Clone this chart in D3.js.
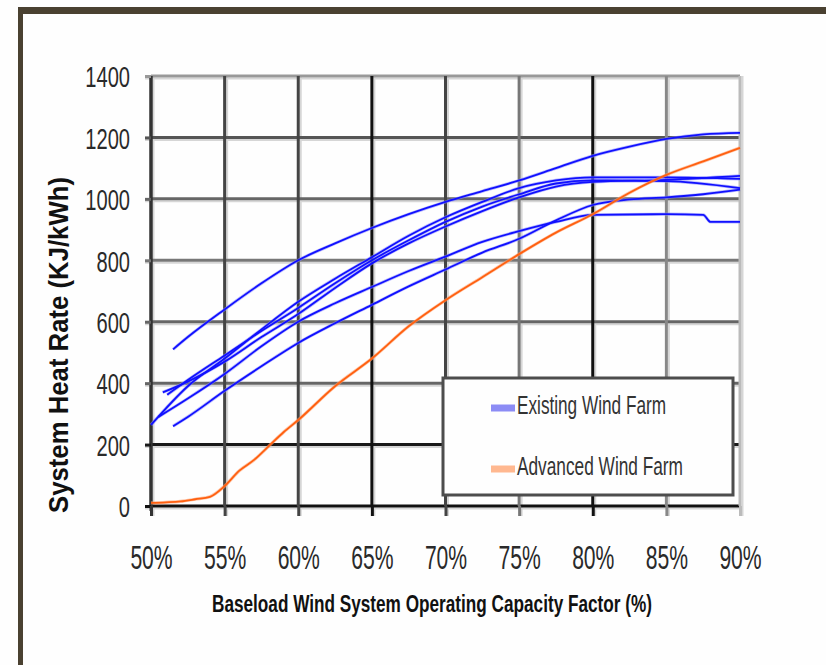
<!DOCTYPE html>
<html>
<head>
<meta charset="utf-8">
<script src="https://cdn.jsdelivr.net/npm/d3@7"></script>
<style>
  body { margin: 0; background: #fefefe; }
  svg { display: block; }
</style>
</head>
<body>
<script>
//////////////// Data ////////////////////
var xTicks = [50, 55, 60, 65, 70, 75, 80, 85, 90];
var yTicks = [0, 200, 400, 600, 800, 1000, 1200, 1400];
var seriesNames = ["Existing Wind Farm", "Advanced Wind Farm"];

// existing wind farm cases (capacity factor %, heat rate)
var existing1 = [[51.5,510],[52.5,550],[55,640],[57.5,725],[60,800],[62.5,855],[65,905],[67.5,950],[70,990],[72.5,1025],[75,1060],[77.5,1100],[80,1140],[82.5,1170],[85,1195],[87.5,1210],[90,1215]];
var existing2 = [[50,264],[52.5,390],[55,480],[57.5,575],[60,665],[62.5,740],[65,810],[67.5,880],[70,940],[72.5,990],[75,1035],[77.5,1060],[80,1070],[85,1070],[90,1065]];
var existing3 = [[51.1,362],[52.5,410],[55,490],[57.5,570],[60,645],[62.5,725],[65,800],[67.5,865],[70,925],[72.5,975],[75,1015],[77.5,1050],[80,1060],[85,1058],[90,1035]];
var existing4 = [[50.8,370],[52.5,405],[55,470],[57.5,550],[60,625],[62.5,710],[65,790],[67.5,855],[70,910],[72.5,960],[75,1005],[77.5,1040],[80,1055],[85,1062],[90,1075]];
var existing5 = [[50.5,290],[52.5,350],[55,430],[57.5,520],[60,600],[62.5,660],[65,713],[67.5,765],[70,812],[72.5,860],[75,895],[77.5,925],[80,948],[85,950],[87.5,948],[88,925],[90,925]];
var existing6 = [[51.5,260],[52.5,290],[55,375],[57.5,455],[60,531],[62.5,595],[65,655],[67.5,715],[70,770],[72.5,825],[75,870],[77.5,930],[80,980],[82.5,998],[85,1005],[87.5,1015],[90,1030]];
var advanced = [[50,10],[51,12],[52,15],[53,22],[54,30],[55,65],[56,115],[57,150],[58,195],[59,240],[60,280],[62.5,390],[65,480],[67.5,585],[70,670],[72.5,745],[75,820],[77.5,890],[80,950],[82.5,1020],[85,1078],[87.5,1122],[90,1166]];

//////////////// Layout ////////////////////
var W = 826, H = 665;
var x = d3.scaleLinear().domain([50, 90]).range([151, 740]);
var y = d3.scaleLinear().domain([0, 1400]).range([506, 76]);

// grid shades, as in the scanned original
var vShade = ["#333", "#444", "#444", "#111", "#444", "#777", "#111", "#888", "#bbb"];
var hShade = ["#111", "#1a1a1a", "#666", "#666", "#777", "#666", "#555", "#999"];

var svg = d3.select("body").append("svg")
  .attr("width", W).attr("height", H);

svg.append("rect").attr("width", W).attr("height", H).attr("fill", "#fefefe");

// frame
svg.append("rect").attr("x", 18).attr("y", 7).attr("width", W - 18).attr("height", 7).attr("fill", "#4a4131");
svg.append("rect").attr("x", 18).attr("y", 7).attr("width", 5).attr("height", H - 7).attr("fill", "#4a4131");

//////////////// Grid ////////////////////
var grid = svg.append("g");
// soft halo next to each line
grid.selectAll("line.hh").data(yTicks).enter().append("line")
  .attr("x1", 145).attr("x2", 740)
  .attr("y1", function(d){ return y(d) + 2.5; }).attr("y2", function(d){ return y(d) + 2.5; })
  .attr("stroke", "#d6d6d6").attr("stroke-width", 2);
grid.selectAll("line.vh").data(xTicks).enter().append("line")
  .attr("y1", 76).attr("y2", 516)
  .attr("x1", function(d){ return x(d) + 2.5; }).attr("x2", function(d){ return x(d) + 2.5; })
  .attr("stroke", "#d6d6d6").attr("stroke-width", 2);

grid.selectAll("line.h").data(yTicks).enter().append("line")
  .attr("x1", 151).attr("x2", 740)
  .attr("y1", function(d){ return y(d); }).attr("y2", function(d){ return y(d); })
  .attr("stroke", function(d, i){ return hShade[i]; }).attr("stroke-width", 3);
grid.selectAll("line.v").data(xTicks).enter().append("line")
  .attr("y1", 76).attr("y2", 506)
  .attr("x1", function(d){ return x(d); }).attr("x2", function(d){ return x(d); })
  .attr("stroke", function(d, i){ return vShade[i]; }).attr("stroke-width", 3);

//////////////// Axes ////////////////////
var yAxis = d3.axisLeft(y).tickValues(yTicks).tickSize(6).tickPadding(0)
  .tickFormat(d3.format("d"));
var xAxis = d3.axisBottom(x).tickValues(xTicks).tickSize(10).tickPadding(0)
  .tickFormat(function(d){ return d + "%"; });

var yA = svg.append("g").attr("transform", "translate(151,0)").call(yAxis);
yA.select(".domain").attr("stroke", "#333").attr("stroke-width", 3).attr("d", "M0,76V511");
yA.selectAll(".tick line").attr("stroke", function(d, i){ return hShade[i]; }).attr("stroke-width", 3);
yA.selectAll(".tick text")
  .attr("font-family", "Liberation Sans, Arial, sans-serif")
  .attr("font-size", 30).attr("fill", "#2a2a2a")
  .attr("x", -21 / 0.67).attr("dy", "0.36em")
  .attr("transform", "scale(0.67,1)");

var xA = svg.append("g").attr("transform", "translate(0,506)").call(xAxis);
xA.select(".domain").remove();
xA.selectAll(".tick line").attr("stroke", function(d, i){ return vShade[i]; }).attr("stroke-width", 3);
xA.selectAll(".tick text")
  .attr("font-family", "Liberation Sans, Arial, sans-serif")
  .attr("font-size", 33).attr("fill", "#2a2a2a")
  .attr("y", 63).attr("dy", 0)
  .attr("transform", "scale(0.64,1)");

// axis titles
svg.append("text")
  .attr("transform", "translate(68,345) rotate(-90)")
  .attr("text-anchor", "middle")
  .attr("font-family", "Liberation Sans, Arial, sans-serif")
  .attr("font-weight", "bold").attr("font-size", 27).attr("fill", "#111")
  .attr("textLength", 336).attr("lengthAdjust", "spacingAndGlyphs")
  .text("System Heat Rate (KJ/kWh)");

svg.append("text")
  .attr("x", 432).attr("y", 612)
  .attr("text-anchor", "middle")
  .attr("font-family", "Liberation Sans, Arial, sans-serif")
  .attr("font-weight", "bold").attr("font-size", 23).attr("fill", "#111")
  .attr("textLength", 440).attr("lengthAdjust", "spacingAndGlyphs")
  .text("Baseload Wind System Operating Capacity Factor (%)");

//////////////// Lines ////////////////////
var line = d3.line()
  .curve(d3.curveMonotoneX)
  .x(function(d){ return x(d[0]); })
  .y(function(d){ return y(d[1]); });

var blues = [existing1, existing2, existing3, existing4, existing5, existing6];
svg.selectAll("path.halo").data(blues).enter().append("path")
  .attr("d", line).attr("fill", "none")
  .attr("stroke", "#8c8cff").attr("stroke-width", 3.2).attr("stroke-opacity", 0.6);
svg.selectAll("path.existing").data(blues).enter().append("path")
  .attr("class", "existing")
  .attr("d", line).attr("fill", "none")
  .attr("stroke", "#1010ff").attr("stroke-width", 1.8);

svg.append("path").datum(advanced)
  .attr("d", line).attr("fill", "none")
  .attr("stroke", "#ffa070").attr("stroke-width", 3.2).attr("stroke-opacity", 0.6);
svg.append("path").datum(advanced)
  .attr("d", line).attr("fill", "none")
  .attr("stroke", "#ff6010").attr("stroke-width", 1.8);

//////////////// Legend ////////////////////
var lg = svg.append("g");
lg.append("rect").attr("x", 443).attr("y", 378).attr("width", 290).attr("height", 117)
  .attr("fill", "#fefefe").attr("stroke", "#4d4d4d").attr("stroke-width", 3);

var swatch = ["#8c8cf5", "#ffb890"];
var textLen = [149, 166];
var rowY = [408, 469];
seriesNames.forEach(function(name, i) {
  lg.append("rect").attr("x", 491).attr("y", rowY[i] - 3.5).attr("width", 24).attr("height", 7)
    .attr("fill", swatch[i]);
  lg.append("text").attr("x", 517).attr("y", rowY[i] + 6)
    .attr("font-family", "Liberation Sans, Arial, sans-serif")
    .attr("font-size", 25).attr("fill", "#333")
    .attr("textLength", textLen[i]).attr("lengthAdjust", "spacingAndGlyphs")
    .text(name);
});
</script>
</body>
</html>
